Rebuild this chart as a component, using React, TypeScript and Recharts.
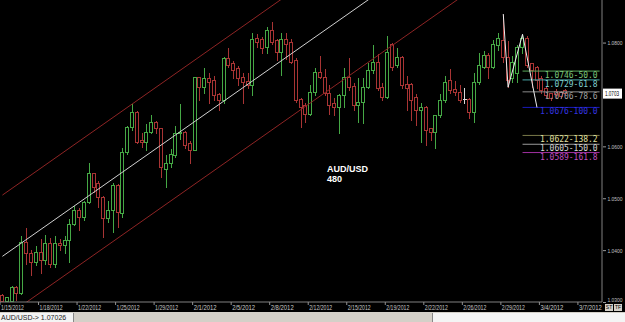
import { ComposedChart, Bar, Line, XAxis, YAxis, ReferenceLine } from 'recharts'

// 480-minute AUD/USD bars
const dateLabels = ['1/15/2012', '1/18/2012', '1/22/2012', '1/25/2012', '1/29/2012', '2/1/2012', '2/5/2012', '2/8/2012',
  '2/12/2012', '2/15/2012', '2/19/2012', '2/22/2012', '2/26/2012', '2/29/2012', '3/4/2012', '3/7/2012']

const opens = [
  1.0314, 1.0303, 1.0303, 1.0329, 1.0318, 1.0417, 1.0395, 1.0379, 1.0398, 1.0382,
  1.0414, 1.0375, 1.0414, 1.0411, 1.0420, 1.0452, 1.0478, 1.0465, 1.0494, 1.0549,
  1.0530, 1.0504, 1.0462, 1.0478, 1.0526, 1.0472, 1.0591, 1.0639, 1.0668, 1.0613,
  1.0610, 1.0629, 1.0648, 1.0636, 1.0558, 1.0568, 1.0584, 1.0626, 1.0629, 1.0607,
  1.0594, 1.0734, 1.0715, 1.0732, 1.0729, 1.0701, 1.0690, 1.0772, 1.0761, 1.0751,
  1.0734, 1.0727, 1.0719, 1.0809, 1.0807, 1.0793, 1.0826, 1.0806, 1.0783, 1.0807,
  1.0803, 1.0767, 1.0693, 1.0681, 1.0664, 1.0706, 1.0745, 1.0735, 1.0703, 1.0684,
  1.0677, 1.0700, 1.0735, 1.0717, 1.0681, 1.0687, 1.0716, 1.0748, 1.0764, 1.0716,
  1.0697, 1.0799, 1.0758, 1.0774, 1.0722, 1.0722, 1.0697, 1.0671, 1.0677, 1.0636,
  1.0629, 1.0661, 1.0690, 1.0729, 1.0711, 1.0706, 1.0693, 1.0693, 1.0668, 1.0725,
  1.0754, 1.0777, 1.0754, 1.0796, 1.0806, 1.0774, 1.0732, 1.0742, 1.0793, 1.0809,
  1.0761, 1.0754, 1.0732, 1.0713, 1.0703, 1.0708, 1.0706, 1.0710,
]
const highs = [
  1.0318, 1.0312, 1.0334, 1.0334, 1.0430, 1.0446, 1.0404, 1.0411, 1.0424, 1.0433,
  1.0427, 1.0430, 1.0424, 1.0430, 1.0462, 1.0488, 1.0485, 1.0497, 1.0571, 1.0552,
  1.0536, 1.0507, 1.0497, 1.0533, 1.0530, 1.0600, 1.0642, 1.0684, 1.0671, 1.0629,
  1.0645, 1.0664, 1.0652, 1.0639, 1.0587, 1.0597, 1.0642, 1.0684, 1.0632, 1.0613,
  1.0736, 1.0736, 1.0754, 1.0745, 1.0738, 1.0706, 1.0775, 1.0793, 1.0767, 1.0758,
  1.0745, 1.0745, 1.0822, 1.0819, 1.0813, 1.0833, 1.0843, 1.0809, 1.0822, 1.0822,
  1.0809, 1.0774, 1.0697, 1.0687, 1.0722, 1.0754, 1.0777, 1.0751, 1.0722, 1.0697,
  1.0703, 1.0754, 1.0774, 1.0725, 1.0735, 1.0735, 1.0764, 1.0799, 1.0780, 1.0725,
  1.0815, 1.0803, 1.0793, 1.0777, 1.0738, 1.0725, 1.0703, 1.0687, 1.0681, 1.0639,
  1.0664, 1.0703, 1.0738, 1.0751, 1.0729, 1.0722, 1.0715, 1.0697, 1.0745, 1.0783,
  1.0787, 1.0783, 1.0807, 1.0822, 1.0856, 1.0806, 1.0777, 1.0799, 1.0817, 1.0815,
  1.0764, 1.0758, 1.0738, 1.0719, 1.0706, 1.0713, 1.0710, 1.0714,
]
const lows = [
  1.0302, 1.0302, 1.0302, 1.0305, 1.0316, 1.0375, 1.0353, 1.0372, 1.0356, 1.0375,
  1.0369, 1.0369, 1.0401, 1.0395, 1.0379, 1.0449, 1.0440, 1.0459, 1.0491, 1.0513,
  1.0485, 1.0427, 1.0456, 1.0436, 1.0446, 1.0465, 1.0587, 1.0632, 1.0607, 1.0600,
  1.0594, 1.0626, 1.0626, 1.0542, 1.0523, 1.0562, 1.0581, 1.0616, 1.0597, 1.0568,
  1.0593, 1.0690, 1.0703, 1.0684, 1.0690, 1.0671, 1.0684, 1.0754, 1.0732, 1.0719,
  1.0684, 1.0713, 1.0700, 1.0793, 1.0780, 1.0780, 1.0799, 1.0767, 1.0738, 1.0770,
  1.0761, 1.0687, 1.0639, 1.0648, 1.0662, 1.0700, 1.0732, 1.0700, 1.0664, 1.0661,
  1.0626, 1.0677, 1.0709, 1.0671, 1.0648, 1.0645, 1.0713, 1.0742, 1.0709, 1.0690,
  1.0695, 1.0748, 1.0754, 1.0713, 1.0671, 1.0652, 1.0642, 1.0610, 1.0603, 1.0613,
  1.0597, 1.0658, 1.0687, 1.0703, 1.0700, 1.0687, 1.0684, 1.0655, 1.0648, 1.0722,
  1.0751, 1.0732, 1.0751, 1.0787, 1.0764, 1.0715, 1.0725, 1.0725, 1.0780, 1.0754,
  1.0716, 1.0713, 1.0703, 1.0697, 1.0690, 1.0697, 1.0694, 1.0700,
]
const closes = [
  1.0303, 1.0310, 1.0329, 1.0318, 1.0417, 1.0395, 1.0379, 1.0398, 1.0382, 1.0414,
  1.0375, 1.0414, 1.0411, 1.0420, 1.0452, 1.0478, 1.0465, 1.0494, 1.0549, 1.0523,
  1.0504, 1.0462, 1.0478, 1.0526, 1.0475, 1.0591, 1.0639, 1.0668, 1.0610, 1.0610,
  1.0629, 1.0648, 1.0636, 1.0562, 1.0568, 1.0587, 1.0626, 1.0629, 1.0603, 1.0594,
  1.0734, 1.0715, 1.0732, 1.0725, 1.0700, 1.0690, 1.0772, 1.0758, 1.0748, 1.0732,
  1.0725, 1.0719, 1.0807, 1.0803, 1.0790, 1.0826, 1.0803, 1.0783, 1.0807, 1.0799,
  1.0764, 1.0691, 1.0677, 1.0664, 1.0706, 1.0745, 1.0735, 1.0703, 1.0681, 1.0677,
  1.0700, 1.0735, 1.0716, 1.0681, 1.0687, 1.0716, 1.0748, 1.0764, 1.0713, 1.0697,
  1.0783, 1.0754, 1.0774, 1.0719, 1.0713, 1.0690, 1.0671, 1.0677, 1.0632, 1.0629,
  1.0661, 1.0690, 1.0725, 1.0709, 1.0706, 1.0690, 1.0693, 1.0668, 1.0725, 1.0758,
  1.0777, 1.0754, 1.0799, 1.0809, 1.0774, 1.0729, 1.0764, 1.0793, 1.0809, 1.0758,
  1.0748, 1.0729, 1.0709, 1.0700, 1.0695, 1.0701, 1.0698, 1.0703,
]

// ABCD pattern (bar slot, price)
const zigSlots = [104, 105, 108, 111]
const zigValues = [1.0856, 1.0715, 1.0817, 1.0676]

// fibonacci projection levels from point C
const fibLevels = [1.0746, 1.0729, 1.0706, 1.0676, 1.0622, 1.0605, 1.0589]
const fibPcts = ['50.0', '61.8', '78.6', '100.0', '138.2', '150.0', '161.8']
const fibLine = ['#5aa85a', '#4aa8a8', '#8a8a8a', '#1a1ab8', '#7a7a4a', '#9a9a9a', '#a030a0']
const fibText = ['#7cc87c', '#7fd0d0', '#a0a0a0', '#3434e0', '#e0e0a0', '#d8d8d8', '#c050c0']

// regression channel: price at first and last slot
const upperChannel = [1.0507, 1.1315]
const midLine = [1.0389, 1.1196]
const lowerChannel = [1.0268, 1.1076]

const lastPrice = 1.07026
const priceTicks = [1.03, 1.04, 1.05, 1.06, lastPrice, 1.08]
const SLOTS = 125
const tickSlots = dateLabels.map((_, k) => k * 8)

const GREEN = '#45a845'
const RED = '#a83434'
const DOJI = '#d8d8d8'

const rows = Array.from({ length: SLOTS }, (_, i) => {
  const has = i < opens.length
  const zk = zigSlots.indexOf(i)
  return {
    i,
    o: has ? opens[i] : null,
    h: has ? highs[i] : null,
    l: has ? lows[i] : null,
    c: has ? closes[i] : null,
    range: has ? [lows[i], highs[i]] : null,
    zig: zk >= 0 ? zigValues[zk] : null,
  }
})

function Candle(props: any) {
  const { x, y, width, height, payload } = props
  if (!payload || payload.o == null) return null
  const { o, h, l, c } = payload
  const toY = (v: number) => (h === l ? y : y + ((h - v) / (h - l)) * height)
  const cx = Math.floor(x + width / 2) + 0.5
  const top = Math.round(toY(Math.max(o, c))) + 0.5
  const bot = Math.round(toY(Math.min(o, c))) + 0.5
  const yh = Math.round(y) + 0.5
  const yl = Math.round(y + height) + 0.5
  const color = c > o ? GREEN : c < o ? RED : DOJI
  return (
    <g shapeRendering="crispEdges">
      <line x1={cx} x2={cx} y1={yh} y2={top} stroke={color} />
      <line x1={cx} x2={cx} y1={bot} y2={yl} stroke={color} />
      {bot > top ? (
        <rect x={cx - 2} y={top} width={3} height={bot - top} fill="none" stroke={color} />
      ) : (
        <line x1={cx - 2} x2={cx + 2} y1={top} y2={top} stroke={color} />
      )}
    </g>
  )
}

function DateTick(props: any) {
  const { x, y, payload } = props
  const label = dateLabels[tickSlots.indexOf(payload.value)]
  const left = x - 602 / SLOTS / 2
  return (
    <g>
      <line x1={left} x2={left} y1={y} y2={y + 3} stroke="#909090" />
      <text x={left + 1} y={y + 8} fontSize={7} fill="#c8c8c8" textLength={23} lengthAdjust="spacingAndGlyphs">{label}</text>
    </g>
  )
}

function PriceTick(props: any) {
  const { x, y, payload } = props
  const v = payload.value
  const txt = v.toFixed(4)
  if (v === lastPrice) {
    return (
      <g>
        <rect x={x + 1} y={y - 5} width={19} height={10} fill="#fff" />
        <text x={x + 3} y={y + 2.5} fontSize={6.5} fill="#000" textLength={14} lengthAdjust="spacingAndGlyphs">{txt}</text>
      </g>
    )
  }
  // the bottom label sits just above the corner buttons
  const ty = v === priceTicks[0] ? y - 1 : y + 2
  return (
    <g>
      <line x1={x + 1} x2={x + 4} y1={y} y2={y} stroke="#9a9a9a" />
      <text x={x + 5.5} y={ty} fontSize={6} fill="#c0c0c0" textLength={15} lengthAdjust="spacingAndGlyphs">{txt}</text>
    </g>
  )
}

function fibLabel(k: number) {
  return (p: any) => {
    const vb = p.viewBox
    const right = vb.x + vb.width - 2
    const txt = `${fibLevels[k].toFixed(4)}-${fibPcts[k]}`
    return (
      <text x={right} y={vb.y + 7} fontSize={8} fill={fibText[k]} textAnchor="end"
        fontFamily="DejaVu Sans Mono" textLength={txt.length * 4.8} lengthAdjust="spacingAndGlyphs">
        {txt}
      </text>
    )
  }
}

export default function App() {
  return (
    <div style={{ position: 'absolute', left: 0, top: 0, width: 625, height: 322, background: '#000', fontFamily: 'Liberation Sans, Arial, sans-serif', overflow: 'hidden' }}>
      <ComposedChart width={625} height={312} data={rows} margin={{ top: 0, right: 0, bottom: 0, left: 0 }} barCategoryGap={0} barGap={0}>
        <XAxis dataKey="i" type="category" ticks={tickSlots} interval={0} height={10} tickSize={0} tickMargin={0}
          axisLine={{ stroke: '#808080' }} tickLine={false} tick={(p: any) => <DateTick {...p} />} />
        <YAxis orientation="right" width={23} type="number" domain={[1.0301, 1.0883]} allowDataOverflow ticks={priceTicks}
          interval={0} tickSize={0} tickMargin={0} axisLine={{ stroke: '#808080' }} tickLine={false}
          tick={(p: any) => <PriceTick {...p} />} />
        <Bar dataKey="range" isAnimationActive={false} shape={(p: any) => <Candle {...p} />} />
        <ReferenceLine segment={[{ x: 0, y: upperChannel[0] }, { x: SLOTS - 1, y: upperChannel[1] }]} stroke="#8e2424" ifOverflow="hidden" />
        <ReferenceLine segment={[{ x: 0, y: midLine[0] }, { x: SLOTS - 1, y: midLine[1] }]} stroke="#d0d0d0" ifOverflow="hidden" />
        <ReferenceLine segment={[{ x: 0, y: lowerChannel[0] }, { x: SLOTS - 1, y: lowerChannel[1] }]} stroke="#8e2424" ifOverflow="hidden" />
        {fibLevels.map((lv, k) => (
          <ReferenceLine key={k} segment={[{ x: zigSlots[2], y: lv }, { x: SLOTS - 1, y: lv }]} stroke={fibLine[k]}
            ifOverflow="visible" label={fibLabel(k)} />
        ))}
        <Line dataKey="zig" stroke="#ececec" strokeWidth={1} dot={false} connectNulls isAnimationActive={false} />
      </ComposedChart>
      <div style={{ position: 'absolute', left: 327, top: 164, color: '#fff', fontSize: 9, fontWeight: 'bold', lineHeight: '10px' }}>
        AUD/USD<br />480
      </div>
      <div style={{ position: 'absolute', left: 605, top: 304, display: 'flex', gap: 1 }}>
        <div style={{ width: 8, height: 7, background: '#d4d0c8', fontSize: 5, lineHeight: '7px', color: '#000', textAlign: 'center' }}>ST</div>
        <div style={{ width: 8, height: 7, background: '#d4d0c8', fontSize: 5, lineHeight: '7px', color: '#000', textAlign: 'center' }}>TF</div>
      </div>
      <div style={{ position: 'absolute', left: 0, top: 312, width: 625, height: 10, background: '#d4d0c8' }}>
        <div style={{ position: 'absolute', left: 0, top: 1, width: 72, height: 9, background: '#f4f4f4', borderRight: '1px solid #888', fontSize: 7, lineHeight: '9px', color: '#222', paddingLeft: 1 }}>
          AUD/USD-&gt; 1.07026
        </div>
        <div style={{ position: 'absolute', left: 432, top: 1, width: 193, height: 9, background: '#f4f4f4', borderLeft: '1px solid #888' }} />
      </div>
    </div>
  )
}
